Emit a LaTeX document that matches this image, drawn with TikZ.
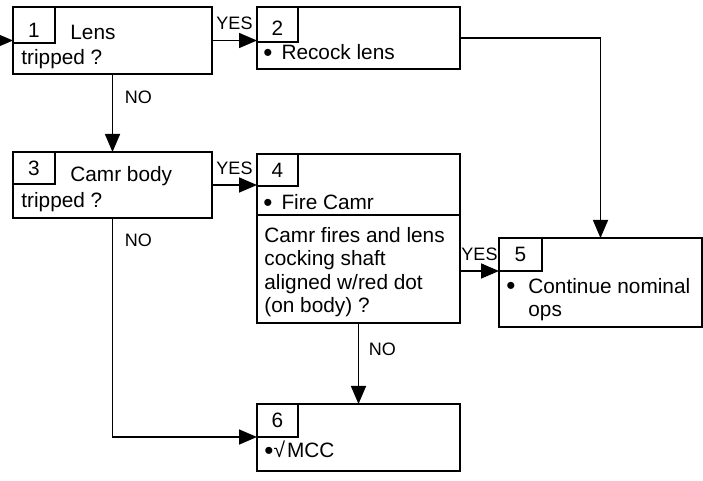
\documentclass[tikz,border=0pt]{standalone}
\usepackage{fontspec}
\setmainfont{Liberation Sans}
\usepackage{tikz}
\usetikzlibrary{arrows.meta, positioning}
\newcommand{\bigdot}{\raisebox{-0.8pt}{\fontsize{13}{13}\selectfont •}}
\tikzset{
  stepbox/.style={draw, line width=0.9pt, anchor=north west, inner sep=0pt,
    outer sep=0pt, minimum width=101.5pt},
  tab/.style={draw, line width=0.9pt, anchor=north west, inner sep=0pt,
    outer sep=0pt, minimum width=20.5pt, minimum height=16.5pt,
    font=\fontsize{10.4}{12}\selectfont},
  txt/.style={inner sep=0pt, anchor=base west, font=\fontsize{10.4}{11.75}\selectfont},
  lbl/.style={font=\fontsize{9}{10}\selectfont},
  arrow/.style={-{Triangle[length=9pt, width=7.5pt]}, line width=0.8pt}
}

\begin{document}
\begin{tikzpicture}[x=0.5pt, y=-0.5pt]
      \useasboundingbox (0,0) rectangle (703,481);

      % === Step boxes ===
      \node[stepbox, minimum width=99.5pt, minimum height=33.5pt] (b1) at (13,7) {};
      \node[stepbox, minimum height=31pt] (b2) at (257,7) {};
      \node[stepbox, minimum width=99.5pt, minimum height=33pt] (b3) at (13,152) {};
      \node[stepbox, minimum height=84.5pt] (b4) at (257,154) {};
      \node[stepbox, minimum height=44.5pt] (b5) at (499,238) {};
      \node[stepbox, minimum height=33.5pt] (b6) at (257,404) {};

      % number tabs
      \node[tab, minimum width=21pt, minimum height=18pt] (t1) at (b1.north west) {\raisebox{-2.5pt}[\height][0pt]{1}};
      \node[tab, minimum height=17.5pt] (t2) at (b2.north west) {\raisebox{-2pt}[\height][0pt]{2}};
      \node[tab, minimum width=21pt, minimum height=16pt] (t3) at (b3.north west) {3};
      \node[tab, minimum height=16pt] (t4) at (b4.north west) {4};
      \node[tab, minimum width=21.5pt] (t5) at (b5.north west) {5};
      \node[tab] (t6) at (b6.north west) {6};

      % divider in box 4
      \coordinate (sep4) at (257,215);
      \draw[line width=0.9pt] (sep4) -- (sep4 -| b4.east);

      % === Box texts ===
      \node[txt] (q1a) at (70,40) {Lens};
      \node[txt] (q1b) at (21,65) {tripped ?};
      \node[txt] (r2) at (263,60) {\bigdot\hspace{4.5pt}Recock lens};
      \node[txt] (q3a) at (70,182) {Camr body};
      \node[txt] (q3b) at (21,208) {tripped ?};
      \node[txt] (r4) at (263,210) {\bigdot\hspace{4.5pt}Fire Camr};
      \node[txt, anchor=north west, align=left] (q4) at (264,227)
        {Camr fires and lens\\cocking shaft\\aligned w/red dot\\(on body) ?};
      \node[txt] (dot5) at (506,293) {\bigdot};
      \node[txt, anchor=north west, align=left] (r5) at (528,278) {Continue nominal\\ops};
      \node[txt] (r6) at (264,458) {\bigdot{\fontsize{10.5}{10.5}\selectfont √}\hspace{1pt}MCC};

      % === Connectors ===
      \coordinate (entry) at (-20,40.5);
      \draw[arrow] (entry) -- (b1.west);
      \draw[arrow] (b1.east) -- node[lbl, above=1.5pt] (yes1) {YES} (b1.east -| b2.west);
      \draw[arrow] (b1.south) -- node[lbl, right=2.5pt, pos=0.3] (no1) {NO} (b3.north);
      \draw[arrow] (b2.east) -| (b5.north);
      \draw[arrow] (b3.east) -- node[lbl, above=1.5pt] (yes3) {YES} (b3.east -| b4.west);
      \draw[arrow] (b3.south) |- node[lbl, right=2.5pt, pos=0.05] (no3) {NO} (t6.south west);
      \draw[arrow] (t5.south west -| b4.east) -- node[lbl, above=1.5pt] (yes4) {YES} (t5.south west);
      \draw[arrow] (b4.south) -- node[lbl, right=1.5pt, pos=0.33] (no4) {NO} (b6.north);
    \end{tikzpicture}
\end{document}
